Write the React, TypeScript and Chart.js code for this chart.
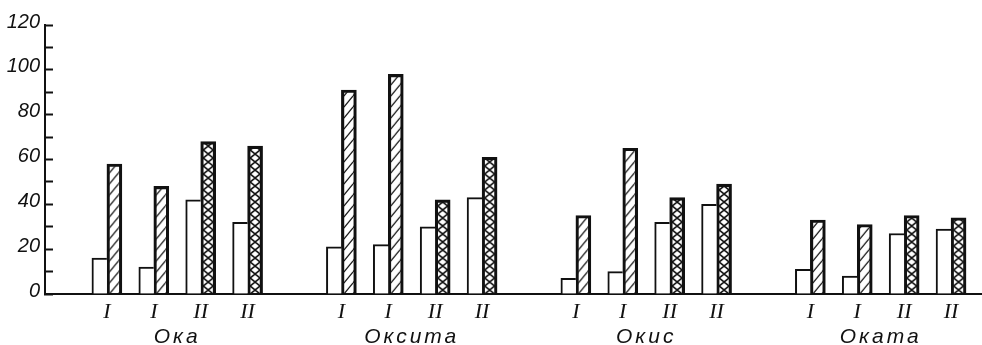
import { useEffect, useRef } from 'react';
import { Chart, registerables } from 'chart.js';

Chart.register(...registerables);

// Four groups, each with four pairs of bars (plain + hatched)
const groups = ['Ока', 'Оксита', 'Окис', 'Оката'];
const pairLabels = ['I', 'I', 'II', 'II'];
const plainValues = [16, 12, 42, 32, 21, 22, 30, 43, 7, 10, 32, 40, 11, 8, 27, 29];
const hatchedValues = [58, 48, 68, 66, 91, 98, 42, 61, 35, 65, 43, 49, 33, 31, 35, 34];
const yLabelled = [0, 20, 40, 60, 80, 100, 120];

const INK = '#111';
const BAR_W = 15;
const HATCH_BORDER = 2.5;

// slot on the x axis: four pairs per group, one empty slot between groups
const slotOf = (i: number) => Math.floor(i / pairLabels.length) * (pairLabels.length + 1) + (i % pairLabels.length);
const pairSlots = plainValues.map((_, i) => slotOf(i));
const groupSlots = groups.map((_, g) => g * (pairLabels.length + 1) + (pairLabels.length - 1) / 2);
const tickLabels = plainValues.map((_, i) => pairLabels[i % pairLabels.length]);

function makeHatch(ctx: CanvasRenderingContext2D, kind: 'diag' | 'cross', left: number, bottom: number) {
  const tile = document.createElement('canvas');
  const t = tile.getContext('2d')!;
  if (kind === 'diag') {
    const w = 9, h = 11;
    tile.width = w; tile.height = h;
    t.strokeStyle = INK;
    t.lineWidth = 1.2;
    t.beginPath();
    for (const dx of [-w, 0, w]) {
      t.moveTo(dx, h);
      t.lineTo(dx + w, 0);
    }
    t.stroke();
  } else {
    const w = BAR_W - 2 * HATCH_BORDER, h = 8;
    tile.width = w; tile.height = h;
    t.strokeStyle = INK;
    t.lineWidth = 1.7;
    t.beginPath();
    t.moveTo(-w, -h); t.lineTo(2 * w, 2 * h);
    t.moveTo(2 * w, -h); t.lineTo(-w, 2 * h);
    t.stroke();
  }
  const p = ctx.createPattern(tile, 'repeat')!;
  p.setTransform(new DOMMatrix([1, 0, 0, 1, left, bottom]));
  return p;
}

const spacedGroupLabels = {
  id: 'spacedGroupLabels',
  beforeDraw(chart: any) {
    const s = chart.scales.x2;
    if (s && !s.__spaced) {
      const draw = s.drawLabels.bind(s);
      s.drawLabels = (area: any) => {
        const ctx = chart.ctx;
        ctx.save();
        ctx.letterSpacing = '3px';
        draw(area);
        ctx.restore();
      };
      s.__spaced = true;
    }
  },
};

export default function App() {
  const ref = useRef<HTMLCanvasElement>(null);

  useEffect(() => {
    document.body.style.margin = '0';
    const canvas = ref.current!;
    const xMin = -1.32;
    const xMax = 18.66;

    const chart = new Chart(canvas, {
      type: 'bar',
      data: {
        datasets: [
          {
            label: 'plain',
            data: plainValues.map((v, i) => ({ x: pairSlots[i], y: v })),
            backgroundColor: '#fff',
            borderColor: INK,
            borderWidth: { top: 2, left: 2, right: 0, bottom: 0 },
            borderSkipped: 'start',
            barThickness: BAR_W,
          },
          {
            label: 'hatched',
            data: hatchedValues.map((v, i) => ({ x: pairSlots[i], y: v })),
            backgroundColor: (c: any) => {
              const xs = c.chart.scales.x;
              const ys = c.chart.scales.y;
              if (c.type !== 'data' || !xs || !ys || !c.raw) return '#fff';
              const kind = pairLabels[c.dataIndex % pairLabels.length] === 'I' ? 'diag' : 'cross';
              const left = xs.getPixelForValue(c.raw.x) + HATCH_BORDER;
              return makeHatch(c.chart.ctx, kind, left, ys.getPixelForValue(0));
            },
            borderColor: INK,
            borderWidth: { top: HATCH_BORDER, left: HATCH_BORDER, right: HATCH_BORDER, bottom: 0 },
            borderSkipped: 'start',
            barThickness: BAR_W,
          },
        ],
      },
      options: {
        animation: false,
        responsive: false,
        layout: { padding: { top: 20, left: 0, right: 0, bottom: 0 } },
        plugins: { legend: { display: false }, tooltip: { enabled: false } },
        scales: {
          x: {
            type: 'linear',
            position: 'bottom',
            min: xMin,
            max: xMax,
            offset: false,
            bounds: 'data',
            afterBuildTicks: (s: any) => {
              s.ticks = pairSlots.map((v) => ({ value: v }));
            },
            afterFit: (s: any) => {
              s.height = 30;
            },
            ticks: {
              autoSkip: false,
              maxRotation: 0,
              padding: 5,
              color: INK,
              font: { family: '"Liberation Serif", serif', size: 22, style: 'italic' },
              callback: (_v: any, i: number) => tickLabels[i],
            },
            grid: { display: true, drawOnChartArea: false, drawTicks: false, color: INK },
            border: { display: true, color: INK, width: 2 },
          },
          x2: {
            type: 'linear',
            position: 'bottom',
            min: xMin,
            max: xMax,
            offset: false,
            bounds: 'data',
            afterBuildTicks: (s: any) => {
              s.ticks = groupSlots.map((v) => ({ value: v }));
            },
            afterFit: (s: any) => {
              s.height = 21;
            },
            ticks: {
              autoSkip: false,
              maxRotation: 0,
              padding: -7,
              color: INK,
              font: { family: '"Liberation Sans", sans-serif', size: 21, style: 'italic' },
              callback: (_v: any, i: number) => groups[i],
            },
            grid: { display: false },
            border: { display: false },
          },
          y: {
            min: 0,
            max: 120,
            afterFit: (s: any) => {
              s.width = 45;
            },
            ticks: {
              stepSize: 10,
              autoSkip: false,
              padding: 13,
              labelOffset: -3,
              color: INK,
              font: { family: '"Liberation Sans", sans-serif', size: 20, style: 'italic' },
              callback: (v: any) => (yLabelled.includes(Number(v)) ? String(v) : ''),
            },
            grid: { drawOnChartArea: false, drawTicks: true, tickLength: -8, tickColor: INK, tickWidth: 2, color: INK },
            border: { display: true, color: INK, width: 2 },
          },
        },
      },
      plugins: [spacedGroupLabels],
    } as any);

    return () => chart.destroy();
  }, []);

  return (
    <div style={{ width: 982, height: 345, background: '#fff' }}>
      <canvas ref={ref} width={982} height={345} style={{ display: 'block' }} />
    </div>
  );
}
